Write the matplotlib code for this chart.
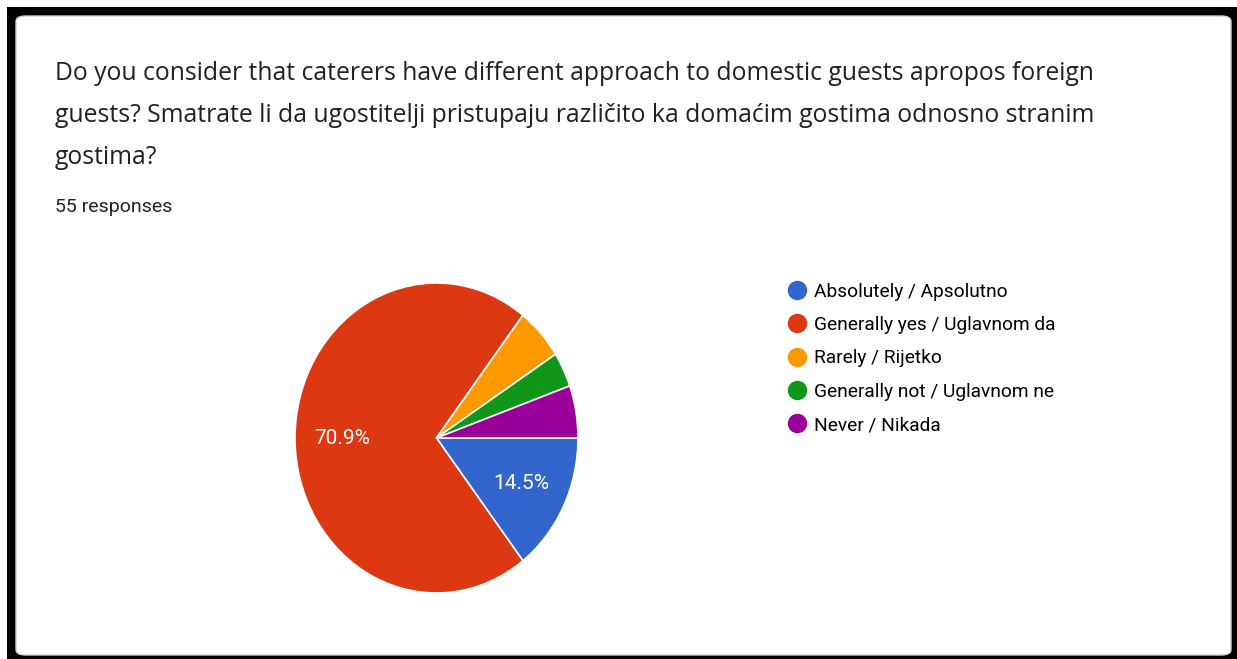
import matplotlib
matplotlib.use("Agg")
import matplotlib.pyplot as plt
from matplotlib.patches import Rectangle, FancyBboxPatch
from matplotlib.lines import Line2D

W, H = 1237, 659
categories = ["Absolutely / Apsolutno", "Generally yes / Uglavnom da", "Rarely / Rijetko",
              "Generally not / Uglavnom ne", "Never / Nikada"]
counts = [8, 39, 3, 2, 3]
colors = ["#3366cc", "#dc3912", "#ff9900", "#109618", "#990099"]
title_lines = ["Do you consider that caterers have different approach to domestic guests apropos foreign",
               "guests? Smatrate li da ugostitelji pristupaju različito ka domaćim gostima odnosno stranim",
               "gostima?"]
subtitle = "55 responses"

fig = plt.figure(figsize=(W / 100, H / 100), dpi=100)
fig.patch.set_facecolor("white")

def fx(px):
    return px / W

def fy(py):
    return 1 - py / H

# black frame
fig.patches.append(Rectangle((fx(7), fy(659)), fx(1237) - fx(7), fy(7) - fy(659),
                             transform=fig.transFigure, facecolor="black", edgecolor="none", zorder=0))
# white card
fig.patches.append(FancyBboxPatch((fx(16), fy(655)), fx(1231) - fx(16), fy(16) - fy(655),
                                  boxstyle="round,pad=0,rounding_size=0.008",
                                  transform=fig.transFigure, facecolor="white",
                                  edgecolor="#d0d0d0", linewidth=1.0, zorder=1))

for i, line in enumerate(title_lines):
    fig.text(fx(55), fy(73 + 42 * i), line, fontsize=17.8, family="Open Sans",
             color="#202124", va="center", ha="left", zorder=3)
fig.text(fx(55), fy(207), subtitle, fontsize=14, family="Roboto", color="#202124",
         va="center", ha="left", zorder=3)

# pie axes (slightly elliptical as in reference)
cx, cy, rx, ry = 436.5, 438, 141.5, 155
ax = fig.add_axes([fx(cx - rx), fy(cy + ry), (2 * rx) / W, (2 * ry) / H], zorder=2)

def fmt(p):
    return f"{p:.1f}%" if p >= 10 else ""

wedges, texts, autotexts = ax.pie(counts, colors=colors, startangle=0, counterclock=False,
                                  autopct=fmt, pctdistance=0.67,
                                  wedgeprops=dict(edgecolor="white", linewidth=1.2),
                                  textprops=dict(color="white", fontsize=15, family="Roboto"))
ax.set_aspect("auto")
ax.set_xlim(-1, 1)
ax.set_ylim(-1, 1)
ax.axis("off")

# legend
handles = [Line2D([0], [0], marker="o", linestyle="none", markersize=13,
                  markerfacecolor=c, markeredgecolor=c) for c in colors]
fig.legend(handles, categories, loc="upper left", bbox_to_anchor=(fx(778), fy(275)),
           frameon=False, prop=dict(family="Roboto", size=13.8),
           handletextpad=0.3, labelspacing=0.8, handlelength=1.2, borderaxespad=0)

fig.savefig("out.png", dpi=100)
